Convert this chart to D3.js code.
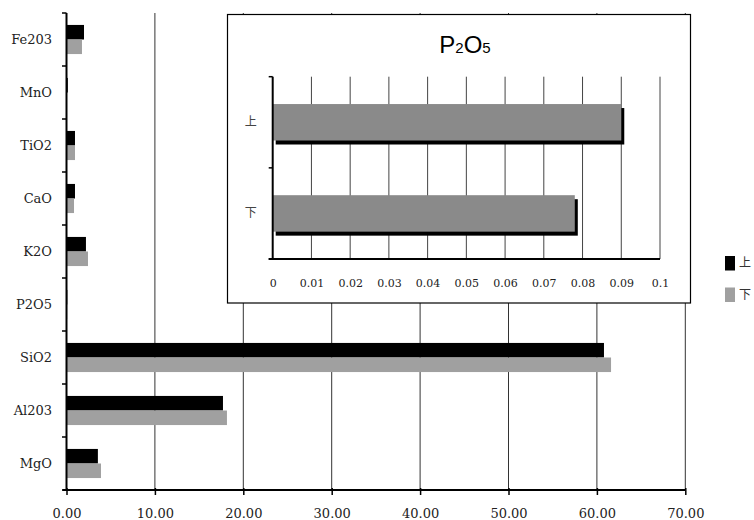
<!DOCTYPE html>
<html>
<head>
<meta charset="utf-8">
<script src="https://cdn.jsdelivr.net/npm/d3@7"></script>
<style>
  html, body { margin: 0; padding: 0; background: #fff; }
  svg { display: block; }
</style>
</head>
<body>
<svg id="chart" width="754" height="520"></svg>
<script>
// Oxide composition (wt%), listed bottom to top on the category axis
const categories = ["MgO", "Al203", "SiO2", "P2O5", "K2O", "CaO", "TiO2", "MnO", "Fe203"];
const seriesNames = ["上", "下"];
const upperValues = [3.55, 17.7, 60.8, 0.09, 2.2, 0.96, 0.96, 0.15, 1.98];
const lowerValues = [3.9, 18.15, 61.6, 0.078, 2.43, 0.85, 0.96, 0.05, 1.75];
const xTicks = [0, 10, 20, 30, 40, 50, 60, 70];
// P2O5 detail panel
const insetCategories = ["上", "下"];
const insetTicks = [0, 0.01, 0.02, 0.03, 0.04, 0.05, 0.06, 0.07, 0.08, 0.09, 0.1];

const seriesColors = { "上": "#000000", "下": "#a0a0a0" };
const serif = "'DejaVu Serif', serif";
const cjk = "'Noto Sans CJK JP', sans-serif";

const svg = d3.select("#chart");

// ---------- main chart ----------
const x = d3.scaleLinear().domain([0, 70]).range([66.5, 685.3]);
const y = d3.scaleBand().domain(categories.slice().reverse()).range([13, 490]);
const ySub = d3.scaleBand().domain(seriesNames).range([0, y.bandwidth()])
  .paddingInner(0).paddingOuter(0.82);

const rows = categories.map((c, i) => ({ cat: c, "上": upperValues[i], "下": lowerValues[i] }));

// vertical gridlines
svg.append("g").selectAll("line").data(xTicks.filter(t => t > 0)).join("line")
  .attr("x1", d => x(d)).attr("x2", d => x(d))
  .attr("y1", 13).attr("y2", 490)
  .attr("stroke", "#333").attr("stroke-width", 1);

// bars
const groups = svg.append("g").selectAll("g").data(rows).join("g")
  .attr("transform", d => `translate(0,${y(d.cat)})`);
groups.selectAll("rect").data(d => seriesNames.map(s => ({ s, v: d[s] }))).join("rect")
  .attr("x", x(0))
  .attr("y", d => ySub(d.s))
  .attr("width", d => x(d.v) - x(0))
  .attr("height", ySub.bandwidth())
  .attr("fill", d => seriesColors[d.s]);

// x axis
const xAxis = svg.append("g").attr("transform", "translate(0,490)")
  .call(d3.axisBottom(x).tickValues(xTicks).tickSize(5).tickPadding(14)
    .tickFormat(d => d3.format(".2f")(d)));
xAxis.select(".domain").attr("stroke", "#000").attr("stroke-width", 2)
  .attr("d", `M${x(0) - 4},0H${x(70)}`);
xAxis.selectAll(".tick line").attr("y1", -2).attr("stroke", "#000").attr("stroke-width", 1.5);
xAxis.selectAll("text").attr("font-family", serif).attr("font-size", 13).attr("fill", "#222");

// y axis: category labels and boundary ticks
const yAxis = svg.append("g").attr("transform", `translate(${x(0)},0)`)
  .call(d3.axisLeft(y).tickSize(0).tickPadding(14.5));
yAxis.select(".domain").remove();
yAxis.selectAll("text").attr("font-family", serif).attr("font-size", 13).attr("fill", "#222");
const boundaries = y.domain().map(c => y(c)).concat([490]);
svg.append("g").selectAll("line").data(boundaries).join("line")
  .attr("x1", x(0) - 4.5).attr("x2", x(0))
  .attr("y1", d => d).attr("y2", d => d)
  .attr("stroke", "#000").attr("stroke-width", 1.5);
svg.append("line").attr("x1", x(0)).attr("x2", x(0)).attr("y1", 13).attr("y2", 490)
  .attr("stroke", "#000").attr("stroke-width", 2);

// legend
const legend = svg.append("g").attr("transform", "translate(725,256)");
seriesNames.forEach((s, i) => {
  const g = legend.append("g").attr("transform", `translate(0,${i * 31.5})`);
  g.append("rect").attr("width", 10).attr("height", 14.5).attr("fill", seriesColors[s]);
  g.append("text").attr("x", 14).attr("y", 7).attr("dy", "0.36em")
    .attr("font-family", cjk).attr("font-size", 12).attr("fill", "#333").text(s);
});

// ---------- P2O5 detail panel ----------
const pIdx = categories.indexOf("P2O5");
const insetRows = [
  { cat: "上", v: upperValues[pIdx] },
  { cat: "下", v: lowerValues[pIdx] }
];

svg.append("rect").attr("x", 227.5).attr("y", 14.5).attr("width", 463).attr("height", 288.5)
  .attr("fill", "#fff").attr("stroke", "#000").attr("stroke-width", 1.2);

const title = svg.append("text").attr("x", 465).attr("y", 53).attr("text-anchor", "middle")
  .attr("font-family", "'Liberation Sans', Arial, sans-serif").attr("font-size", 24).attr("fill", "#000");
title.append("tspan").text("P");
title.append("tspan").attr("font-size", 15).text("2");
title.append("tspan").text("O");
title.append("tspan").attr("font-size", 15).text("5");

const ix = d3.scaleLinear().domain([0, 0.1]).range([272.7, 660]);
const iy = d3.scaleBand().domain(insetCategories).range([76.7, 259]).paddingInner(0.6).paddingOuter(0.3);

svg.append("g").selectAll("line").data(insetTicks.filter(t => t > 0)).join("line")
  .attr("x1", d => ix(d)).attr("x2", d => ix(d))
  .attr("y1", 76.7).attr("y2", 259)
  .attr("stroke", "#444").attr("stroke-width", 1);

// bars with drop shadow
const ib = svg.append("g").selectAll("g").data(insetRows).join("g");
ib.append("rect")
  .attr("x", ix(0) + 3).attr("y", d => iy(d.cat) + 4)
  .attr("width", d => ix(d.v) - ix(0)).attr("height", iy.bandwidth())
  .attr("fill", "#000");
ib.append("rect")
  .attr("x", ix(0)).attr("y", d => iy(d.cat))
  .attr("width", d => ix(d.v) - ix(0)).attr("height", iy.bandwidth())
  .attr("fill", "#8a8a8a");

const ixAxis = svg.append("g").attr("transform", "translate(0,259)")
  .call(d3.axisBottom(ix).tickValues(insetTicks).tickSize(0).tickPadding(20)
    .tickFormat(d => d3.format("~g")(d)));
ixAxis.select(".domain").attr("stroke", "#000").attr("stroke-width", 2)
  .attr("d", `M${ix(0) - 4},0H${ix(0.1)}`);
ixAxis.selectAll("text").attr("font-family", serif).attr("font-size", 11).attr("fill", "#222");

const iyAxis = svg.append("g").attr("transform", `translate(${ix(0)},0)`)
  .call(d3.axisLeft(iy).tickSize(0).tickPadding(16));
iyAxis.select(".domain").remove();
iyAxis.selectAll("text").attr("font-family", cjk).attr("font-size", 12).attr("fill", "#444");
const iBounds = [76.7, (76.7 + 259) / 2, 259];
svg.append("g").selectAll("line").data(iBounds).join("line")
  .attr("x1", ix(0) - 4).attr("x2", ix(0))
  .attr("y1", d => d).attr("y2", d => d)
  .attr("stroke", "#000").attr("stroke-width", 1.5);
svg.append("line").attr("x1", ix(0)).attr("x2", ix(0)).attr("y1", 76.7).attr("y2", 259)
  .attr("stroke", "#000").attr("stroke-width", 2);
</script>
</body>
</html>
